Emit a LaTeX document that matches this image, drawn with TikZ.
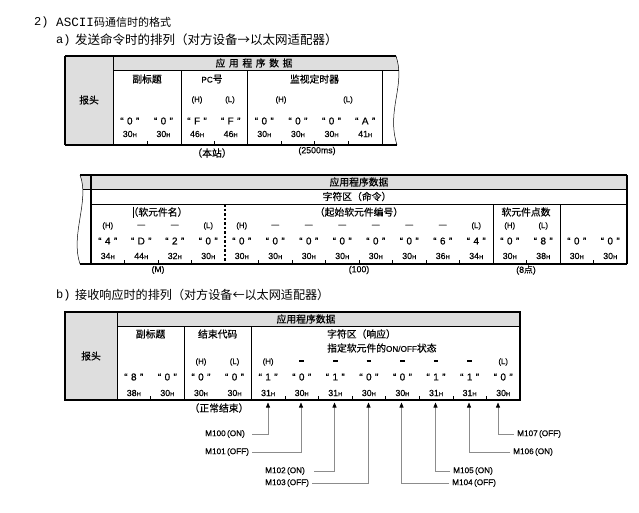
\documentclass[tikz,border=0pt]{standalone}
\usepackage{fontspec}
\setmainfont{Liberation Sans}
\setmonofont{Liberation Mono}
\newfontfamily\cjk{Noto Sans CJK SC}
\newfontfamily\cjkb[FakeBold=0.5]{Noto Sans CJK SC}
\newfontfamily\lat[FakeBold=0.4]{Liberation Sans}
\usetikzlibrary{arrows.meta}
\newcommand\hx[1]{#1{\fontsize{5.8}{5.8}\selectfont H}}
\newcommand\qt[1]{“\kern3.4pt#1\kern3.4pt”}
\newcommand\sdash{\rule[2.5pt]{4.5pt}{1.6pt}}
\begin{document}
\begin{tikzpicture}[x=1pt,y=-1pt,
  tb/.style={line width=1.1pt},
  tn/.style={line width=0.5pt},
  hdr/.style={fill=black!13},
  cn/.style={font=\cjkb\fontsize{9.8}{10}\selectfont, inner sep=0pt},
  lt/.style={font=\lat\fontsize{10}{10}\selectfont, inner sep=0pt},
  hxs/.style={font=\lat\fontsize{8.8}{10}\selectfont, inner sep=0pt},
  hl/.style={font=\lat\fontsize{7.8}{8}\selectfont, inner sep=0pt},
  ml/.style={font=\lat\fontsize{8.2}{9}\selectfont, inner sep=0pt, anchor=west},
  ttl/.style={font=\fontsize{11}{12}\selectfont, inner sep=0pt, anchor=west},
  lead/.style={draw=black!45, line width=0.6pt, -{Triangle[color=black,length=5pt,width=4pt]}}]
\useasboundingbox (0,0) rectangle (639,512);

% ---------------- titles
\node[ttl, font=\ttfamily\fontsize{12}{12}\selectfont] (n2) at (34,22) {2)};
\node[ttl] (tt1) at (56,22) {{\ttfamily\fontsize{12.6}{12}\selectfont ASCII}\cjk 码通信时的格式};
\node[ttl, font=\ttfamily\fontsize{12}{12}\selectfont] (na) at (56,40) {a)};
\node[ttl, font=\cjk\fontsize{12.5}{12}\selectfont] (tt2) at (75,40) {发送命令时的排列（对方设备→以太网适配器）};
\node[ttl, font=\ttfamily\fontsize{12}{12}\selectfont] (nb) at (56,295) {b)};
\node[ttl, font=\cjk\fontsize{12.1}{12}\selectfont] (tt3) at (75,295) {接收响应时的排列（对方设备←以太网适配器）};

% ================= TABLE A
\fill[hdr] (65,56) rectangle (113,145);
\fill[hdr] (113,56) -- (396,56) .. controls (397.5,61) and (398.5,66) .. (399,70) -- (113,70) -- cycle;
\draw[tn] (396,56) .. controls (406,85) and (386,110) .. (397,145);
\draw[tb] (65,56) -- (396,56);
\draw[tb] (65,145) -- (397,145);
\draw[tb] (65,56) -- (65,145);
\draw[tn] (113,70) -- (399,70);
\draw[tn] (113,56) -- (113,145);
\foreach \x in {181,247,382} \draw[tn] (\x,70) -- (\x,145);
\foreach \x in {147,214,281,314,348} \draw[tn] (\x,141) -- (\x,145);
\node[cn] (ahead) at (65+24,100) {报头};
\node[cn] (aapp) at (254,63) {应\hspace{3.6pt}用\hspace{3.6pt}程\hspace{3.6pt}序\hspace{3.6pt}数\hspace{3.6pt}据};
\node[cn] (asub) at (147,79) {副标题};
\node[cn] (apc) at (212,79) {{\lat\fontsize{8.2}{8}\selectfont PC}号};
\node[cn] (atim) at (314.5,79) {监视定时器};
\node[hl] (aH1) at (197,100) {(H)};
\node[hl] (aL1) at (230,100) {(L)};
\node[hl] (aH2) at (281,100) {(H)};
\node[hl] (aL2) at (348,100) {(L)};
\foreach \v/\h [count=\i from 0] in {0/30,0/30,F/46,F/46,0/30,0/30,0/30,A/41} {
  \node[lt] (aq\i) at ({113+33.625*(\i+0.5)},121) {\qt{\v}};
  \node[hxs] (ah\i) at ({113+33.625*(\i+0.5)},134) {\hx{\h}};
}
\node[cn] (abz) at (212,153) {（本站）};
\node[hxs] (ams) at (317,151) {(2500ms)};

% ================= TABLE B (middle)
\fill[hdr] (80,175) -- (627,175) -- (627,189) -- (82.8,189) .. controls (82,184) and (81,179) .. (80,175);
\draw[tn] (80,175) .. controls (90,200) and (70,235) .. (80,264);
\draw[tb] (80,175) -- (627,175);
\draw[tb] (80,264) -- (627,264);
\draw[tb] (91,175) -- (91,264);
\draw[tb] (627,175) -- (627,264);
\draw[tn] (82.8,189) -- (627,189);
\draw[tn] (91,204) -- (627,204);
\draw[line width=1.1pt, dash pattern=on 2.5pt off 2pt] (225,204) -- (225,264);
\draw[tn] (493,204) -- (493,264);
\draw[tn] (560,204) -- (560,264);
\foreach \i in {1,2,3,5,6,7,8,9,10,11,13,15} \draw[tn] ({91+33.5*\i},260) -- ({91+33.5*\i},264);
\node[cn] (bapp) at (359,182) {应用程序数据};
\node[cn] (bchr) at (357,196.5) {字符区（命令）};
\draw[line width=0.9pt] (133,206.5) -- (133,217.5);
\node[cn] (bdev) at (158,212) {（软元件名）};
\node[cn] (bstart) at (359,212) {（起始软元件编号）};
\node[cn] (bcnt) at (526,212) {软元件点数};
\foreach \m [count=\i from 0] in {(H),—,—,(L),(H),—,—,—,—,—,—,(L),(H),(L)} {
  \node[hl] (bm\i) at ({91+33.5*(\i+0.5)},226) {\m};
}
\foreach \v/\h [count=\i from 0] in {4/34,D/44,2/32,0/30,0/30,0/30,0/30,0/30,0/30,0/30,6/36,4/34,0/30,8/38,0/30,0/30} {
  \node[lt] (bq\i) at ({91+33.5*(\i+0.5)},241) {\qt{\v}};
  \node[hxs] (bh\i) at ({91+33.5*(\i+0.5)},256) {\hx{\h}};
}
\node[hl, font=\lat\fontsize{8.5}{9}\selectfont] (bM) at (158,270) {(M)};
\node[hxs] (b100) at (359,270) {(100)};
\node[hxs] (b8) at (526,270) {(8{\cjkb 点})};

% ================= TABLE C (bottom)
\fill[hdr] (65,312) rectangle (117,400);
\fill[hdr] (117,312) rectangle (520,326);
\draw[tn] (117,326) -- (520,326);
\draw[tn] (117,312) -- (117,400);
\draw[tn] (184,326) -- (184,400);
\draw[tn] (251,326) -- (251,400);
\draw[tb] (65,312) rectangle (520,400);
\foreach \i in {1,5,6,7,8,9,10,11} \draw[tn] ({117+33.583*\i},396) -- ({117+33.583*\i},400);
\node[cn] (chead) at (91,356) {报头};
\node[cn] (capp) at (306,319) {应用程序数据};
\node[cn] (csub) at (150.6,334) {副标题};
\node[cn] (cend) at (217.7,334) {结束代码};
\node[cn, anchor=west] (cchr) at (327,334) {字符区（响应）};
\node[cn, anchor=west] (conoff) at (327,348) {指定软元件的{\lat\fontsize{8.2}{8}\selectfont ON/OFF}状态};
\foreach \m [count=\i from 2] in {(H),(L),(H),\sdash,\sdash,\sdash,\sdash,\sdash,\sdash,(L)} {
  \node[hl] (cm\i) at ({117+33.583*(\i+0.5)},362) {\m};
}
\foreach \v/\h [count=\i from 0] in {8/38,0/30,0/30,0/30,1/31,0/30,1/31,0/30,0/30,1/31,1/31,0/30} {
  \node[lt] (cq\i) at ({117+33.583*(\i+0.5)},377) {\qt{\v}};
  \node[hxs] (ch\i) at ({117+33.583*(\i+0.5)},393) {\hx{\h}};
}
\node[cn] (cnorm) at (219,408) {（正常结束）};

% arrow tips
\coordinate (t0) at (268,402.5);
\coordinate (t1) at (301,402.5);
\coordinate (t2) at (334.5,402.5);
\coordinate (t3) at (368.5,402.5);
\coordinate (t4) at (401.5,402.5);
\coordinate (t5) at (435.5,402.5);
\coordinate (t6) at (469,402.5);
\coordinate (t7) at (498,402.5);

\node[ml] (m100) at (205,434) {M100\,(ON)};
\node[ml] (m101) at (205,452) {M101\,(OFF)};
\node[ml] (m102) at (265,471) {M102\,(ON)};
\node[ml] (m103) at (265,483) {M103\,(OFF)};
\node[ml] (m104) at (452,483) {M104\,(OFF)};
\node[ml] (m105) at (453,471) {M105\,(ON)};
\node[ml] (m106) at (513,452) {M106\,(ON)};
\node[ml] (m107) at (517,434) {M107\,(OFF)};

\draw[lead] ([xshift=7pt]m100.east) -| (t0);
\draw[lead] ([xshift=3pt]m101.east) -| (t1);
\draw[lead] ([xshift=9pt]m102.east) -| (t2);
\draw[lead] ([xshift=3pt]m103.east) -| (t3);
\draw[lead] ([xshift=-3pt]m104.west) -| (t4);
\draw[lead] ([xshift=-3pt]m105.west) -| (t5);
\draw[lead] ([xshift=-3pt]m106.west) -| (t6);
\draw[lead] ([xshift=-3pt]m107.west) -| (t7);
\end{tikzpicture}
\end{document}
